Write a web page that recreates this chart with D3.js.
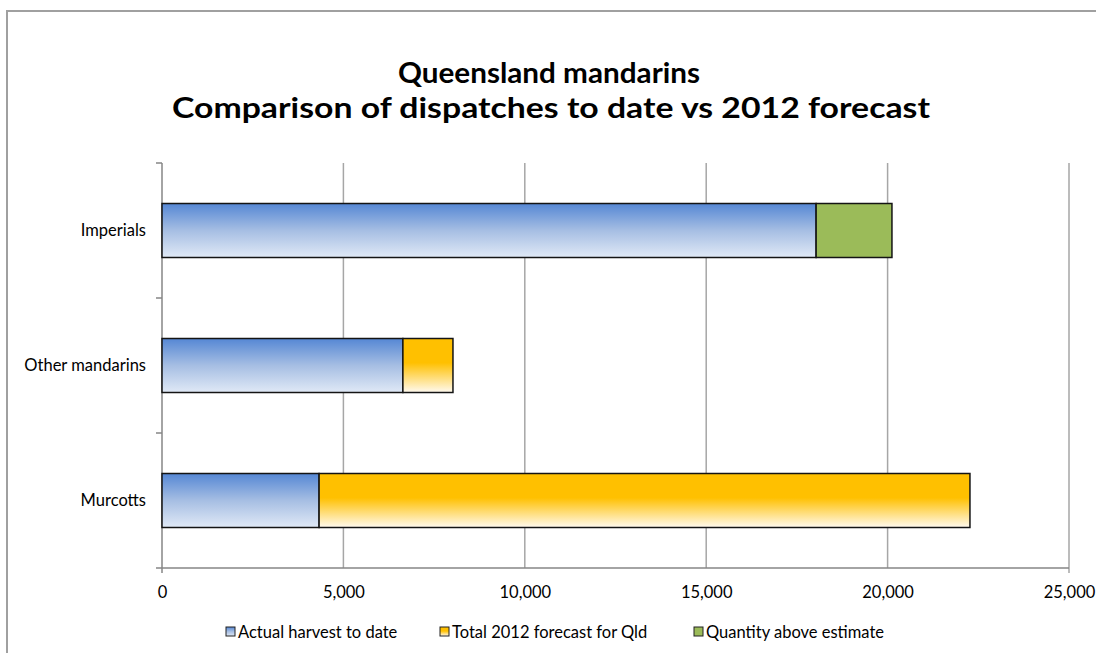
<!DOCTYPE html>
<html>
<head>
<meta charset="utf-8">
<script src="https://cdn.jsdelivr.net/npm/d3@7"></script>
<style>
  body { margin: 0; background: #fff; }
  svg { display: block; font-family: Lato, "Open Sans", sans-serif; }
  .title { font-weight: bold; font-size: 28px; fill: #000; }
  .cat { font-size: 16.5px; fill: #000; }
  .tick text { font-size: 16.5px; fill: #000; font-family: Lato, sans-serif; }
  .legend text { font-size: 16.5px; fill: #000; }
</style>
</head>
<body>
<svg id="chart" width="1096" height="653"></svg>
<script>
  // data (stacked segments)
  const categories = ["Imperials", "Other mandarins", "Murcotts"];
  const actualHarvest = [18030, 6640, 4330];
  const forecastRemaining = [0, 1380, 17940];
  const aboveEstimate = [2090, 0, 0];
  const xTicks = [0, 5000, 10000, 15000, 20000, 25000];
  const seriesNames = ["Actual harvest to date", "Total 2012 forecast for Qld", "Quantity above estimate"];

  const svg = d3.select("#chart");
  const plotLeft = 162, plotRight = 1069, plotTop = 163, plotBottom = 568;

  // gradients
  const defs = svg.append("defs");
  const blue = defs.append("linearGradient").attr("id", "gBlue")
    .attr("x1", 0).attr("y1", 0).attr("x2", 0).attr("y2", 1);
  blue.append("stop").attr("offset", "0%").attr("stop-color", "#5587d4");
  blue.append("stop").attr("offset", "50%").attr("stop-color", "#a6bee3");
  blue.append("stop").attr("offset", "100%").attr("stop-color", "#e0e9f6");
  const orange = defs.append("linearGradient").attr("id", "gOrange")
    .attr("x1", 0).attr("y1", 0).attr("x2", 0).attr("y2", 1);
  orange.append("stop").attr("offset", "0%").attr("stop-color", "#ffc000");
  orange.append("stop").attr("offset", "45%").attr("stop-color", "#ffc000");
  orange.append("stop").attr("offset", "100%").attr("stop-color", "#fffaf0");

  const fills = ["url(#gBlue)", "url(#gOrange)", "#9bbb59"];

  // outer chart frame (runs off the right and bottom edge)
  svg.append("rect")
    .attr("x", 7).attr("y", 11)
    .attr("width", 1200).attr("height", 800)
    .attr("fill", "#fff")
    .attr("stroke", "#a0a0a0")
    .attr("stroke-width", 2);

  // title
  svg.append("text").attr("class", "title")
    .attr("x", 549).attr("y", 83)
    .attr("text-anchor", "middle")
    .attr("textLength", 302).attr("lengthAdjust", "spacingAndGlyphs")
    .text("Queensland mandarins");
  svg.append("text").attr("class", "title")
    .attr("x", 551).attr("y", 118)
    .attr("text-anchor", "middle")
    .attr("textLength", 758).attr("lengthAdjust", "spacingAndGlyphs")
    .text("Comparison of dispatches to date vs 2012 forecast");

  const x = d3.scaleLinear().domain([0, 25000]).range([plotLeft, plotRight]);
  const y = d3.scaleBand().domain(categories).range([plotTop, plotBottom])
    .paddingInner(0.6).paddingOuter(0.3);

  // vertical gridlines
  svg.append("g")
    .selectAll("line")
    .data(xTicks.slice(1))
    .enter()
    .append("line")
    .attr("x1", d => x(d)).attr("x2", d => x(d))
    .attr("y1", plotTop).attr("y2", d => d === 25000 ? plotBottom + 5 : plotBottom)
    .attr("stroke", "#a6a6a6")
    .attr("stroke-width", 1.5);

  // x axis
  const xAxis = svg.append("g")
    .attr("transform", `translate(0, ${plotBottom})`)
    .call(d3.axisBottom(x).tickValues(xTicks).tickSize(0).tickPadding(18)
      .tickFormat(d3.format(",")));
  xAxis.select(".domain").remove();
  svg.append("line")
    .attr("x1", plotLeft - 6).attr("x2", plotRight)
    .attr("y1", plotBottom).attr("y2", plotBottom)
    .attr("stroke", "#868686").attr("stroke-width", 1.5);

  // y axis line and boundary ticks
  svg.append("line")
    .attr("x1", plotLeft).attr("x2", plotLeft)
    .attr("y1", plotTop).attr("y2", plotBottom + 5)
    .attr("stroke", "#868686").attr("stroke-width", 1.5);
  const step = y.step();
  svg.append("g")
    .selectAll("line")
    .data(d3.range(categories.length))
    .enter()
    .append("line")
    .attr("x1", plotLeft - 6).attr("x2", plotLeft)
    .attr("y1", i => plotTop + i * step).attr("y2", i => plotTop + i * step)
    .attr("stroke", "#868686").attr("stroke-width", 1.5);

  svg.append("g")
    .selectAll("text")
    .data(categories)
    .enter()
    .append("text")
    .attr("class", "cat")
    .attr("x", 146)
    .attr("y", d => y(d) + y.bandwidth() / 2)
    .attr("dy", "0.35em")
    .attr("text-anchor", "end")
    .text(d => d);

  // stacked bars
  const rows = categories.map((c, i) => ({
    cat: c, s0: actualHarvest[i], s1: forecastRemaining[i], s2: aboveEstimate[i]
  }));
  const stack = d3.stack().keys(["s0", "s1", "s2"])(rows);

  svg.append("g")
    .selectAll("g")
    .data(stack)
    .enter()
    .append("g")
    .attr("fill", (s, i) => fills[i])
    .selectAll("rect")
    .data(s => s.filter(d => d[1] > d[0]))
    .enter()
    .append("rect")
    .attr("x", d => x(d[0]))
    .attr("y", d => y(d.data.cat))
    .attr("width", d => x(d[1]) - x(d[0]))
    .attr("height", y.bandwidth())
    .attr("stroke", "#141414")
    .attr("stroke-width", 1.5);

  // legend
  const legendX = [226, 440, 694];
  const legend = svg.append("g").attr("class", "legend");
  const items = legend.selectAll("g")
    .data(seriesNames)
    .enter()
    .append("g")
    .attr("transform", (d, i) => `translate(${legendX[i]}, 632)`);
  items.append("rect")
    .attr("x", 0).attr("y", -5)
    .attr("width", 9).attr("height", 9)
    .attr("fill", (d, i) => fills[i])
    .attr("stroke", "#222")
    .attr("stroke-width", 1);
  items.append("text")
    .attr("x", 12).attr("y", 0)
    .attr("dy", "0.35em")
    .text(d => d);
</script>
</body>
</html>
